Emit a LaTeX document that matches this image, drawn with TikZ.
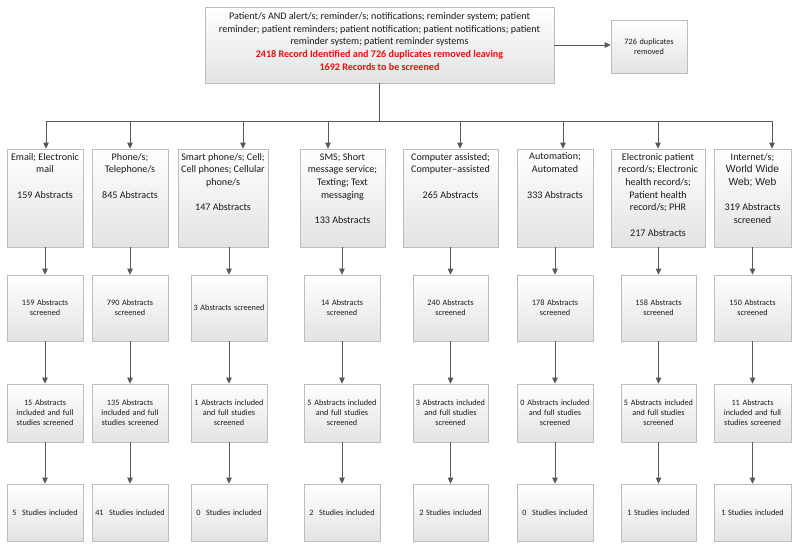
\documentclass[tikz,border=0pt]{standalone}
\usepackage{fontspec}
\setmainfont{Carlito}
\newfontfamily\arialfont{Liberation Sans}
\usetikzlibrary{arrows.meta,shadows}
\definecolor{boxline}{HTML}{BDBDBD}
\definecolor{connc}{HTML}{595959}
\definecolor{txt}{HTML}{1A1A1A}
\definecolor{redtxt}{HTML}{F20D0D}
\tikzset{
  box/.style={draw=boxline, line width=0.6pt, top color=white, bottom color=black!11,
    drop shadow={opacity=0.18, shadow xshift=1.2pt, shadow yshift=-1.2pt},
    inner sep=0pt, text=txt},
  big/.style={box, font=\fontsize{10.1}{12.7}\selectfont},
  small/.style={box, align=center, font=\fontsize{8.2}{10}\selectfont},
  r2/.style={small, minimum height=66pt},
  r3/.style={small, minimum height=58pt},
  r4/.style={small, minimum height=57pt},
  conn/.style={draw=connc, line width=0.8pt, -{Triangle[length=6pt,width=5.5pt]}},
  plainline/.style={draw=connc, line width=0.8pt},
}
\begin{document}
\begin{tikzpicture}[x=1pt,y=-1pt]
\fill[white] (0,0) rectangle (800,551);
\useasboundingbox (0,0) rectangle (800,551);

% top box
\node[big, minimum width=349pt, minimum height=76pt] (top) at (379.5,45)
 {\parbox[t][65pt][t]{345pt}{\centering Patient/s AND alert/s; reminder/s; notifications; reminder system; patient\\
  reminder; patient reminders; patient notification; patient notifications; patient\\
  reminder system; patient reminder systems\\
  \textcolor{redtxt}{\bfseries 2418 Record Identified and 726 duplicates removed leaving}\\
  \textcolor{redtxt}{\bfseries 1692 Records to be screened}}};
\node[small, minimum width=76pt, minimum height=53pt, text width=72pt] (dup) at (649,46.5)
 {726 duplicates\\removed};

% row 1
\node[big, minimum width=76pt, minimum height=98pt] (r1a) at (45,198)
 {\parbox[t][90pt][t]{74pt}{\centering Email; Electronic\\mail\\[12.7pt]159 Abstracts}};
\node[big, minimum width=76pt, minimum height=98pt] (r1b) at (130,198)
 {\parbox[t][90pt][t]{74pt}{\centering Phone/s;\\Telephone/s\\[12.7pt]845 Abstracts}};
\node[big, minimum width=90pt, minimum height=98pt] (r1c) at (223,198)
 {\parbox[t][90pt][t]{88pt}{\centering Smart phone/s; Cell;\\Cell phones; Cellular\\phone/s\\[12.7pt]147 Abstracts}};
\node[big, minimum width=85pt, minimum height=98pt] (r1d) at (342.5,198)
 {\parbox[t][90pt][t]{83pt}{\centering SMS; Short\\message service;\\Texting; Text\\messaging\\[12.7pt]133 Abstracts}};
\node[big, minimum width=95pt, minimum height=98pt] (r1e) at (450.5,198)
 {\parbox[t][90pt][t]{93pt}{\centering Computer assisted;\\Computer--assisted\\[12.7pt]265 Abstracts}};
\node[big, minimum width=76pt, minimum height=98pt] (r1f) at (555,198)
 {\parbox[t][90pt][t]{74pt}{\centering Automation;\\Automated\\[12.7pt]333 Abstracts}};
\node[big, minimum width=94pt, minimum height=98pt] (r1g) at (658,198)
 {\parbox[t][90pt][t]{92pt}{\centering Electronic patient\\record/s; Electronic\\health record/s;\\Patient health\\record/s; PHR\\[12.7pt]217 Abstracts}};
\node[big, minimum width=77pt, minimum height=98pt] (r1h) at (752.5,198)
 {\parbox[t][90pt][t]{75pt}{\centering Internet/s;\\{\arialfont\fontsize{10.3}{12.7}\selectfont World Wide}\\{\arialfont\fontsize{10.3}{12.7}\selectfont Web; Web}\\[12.7pt]319 Abstracts\\screened}};

% row 2
\node[r2, minimum width=76pt, text width=74pt] (r2a) at (45,308) {159 Abstracts\\screened};
\node[r2, minimum width=76pt, text width=74pt] (r2b) at (130,308) {790 Abstracts\\screened};
\node[r2, minimum width=76pt, text width=74pt] (r2c) at (229,308) {3 Abstracts screened};
\node[r2, minimum width=76pt, text width=74pt] (r2d) at (342,308) {14 Abstracts\\screened};
\node[r2, minimum width=75pt, text width=73pt] (r2e) at (450.5,308) {240 Abstracts\\screened};
\node[r2, minimum width=76pt, text width=74pt] (r2f) at (555,308) {178 Abstracts\\screened};
\node[r2, minimum width=75pt, text width=73pt] (r2g) at (658.5,308) {158 Abstracts\\screened};
\node[r2, minimum width=77pt, text width=75pt] (r2h) at (752.5,308) {150 Abstracts\\screened};

% row 3
\node[r3, minimum width=76pt, text width=74pt] (r3a) at (45,413) {15 Abstracts\\included and full\\studies screened};
\node[r3, minimum width=76pt, text width=74pt] (r3b) at (130,413) {135 Abstracts\\included and full\\studies screened};
\node[r3, minimum width=76pt, text width=74pt] (r3c) at (229,413) {1 Abstracts included\\and full studies\\screened};
\node[r3, minimum width=76pt, text width=74pt] (r3d) at (342,413) {5 Abstracts included\\and full studies\\screened};
\node[r3, minimum width=75pt, text width=73pt] (r3e) at (450.5,413) {3 Abstracts included\\and full studies\\screened};
\node[r3, minimum width=76pt, text width=74pt] (r3f) at (555,413) {0 Abstracts included\\and full studies\\screened};
\node[r3, minimum width=75pt, text width=73pt] (r3g) at (658.5,413) {5 Abstracts included\\and full studies\\screened};
\node[r3, minimum width=77pt, text width=75pt] (r3h) at (752.5,413) {11 Abstracts\\included and full\\studies screened};

% row 4
\node[r4, minimum width=76pt, text width=74pt] (r4a) at (45,512.5) {5\ \ Studies included};
\node[r4, minimum width=76pt, text width=74pt] (r4b) at (130,512.5) {41\ \ Studies included};
\node[r4, minimum width=76pt, text width=74pt] (r4c) at (229,512.5) {0\ \ Studies included};
\node[r4, minimum width=76pt, text width=74pt] (r4d) at (342,512.5) {2\ \ Studies included};
\node[r4, minimum width=75pt, text width=73pt] (r4e) at (450.5,512.5) {2 Studies included};
\node[r4, minimum width=76pt, text width=74pt] (r4f) at (555,512.5) {0\ \ Studies included};
\node[r4, minimum width=75pt, text width=73pt] (r4g) at (658.5,512.5) {1 Studies included};
\node[r4, minimum width=77pt, text width=75pt] (r4h) at (752.5,512.5) {1 Studies included};

% bus
\coordinate (bus) at (379.5,121);
\coordinate (b1) at (46,121);
\coordinate (b2) at (130,121);
\coordinate (b3) at (243,121);
\coordinate (b4) at (328,121);
\coordinate (b5) at (460,121);
\coordinate (b6) at (563,121);
\coordinate (b7) at (658,121);
\coordinate (b8) at (772,121);
\draw[plainline] (top.south) -- (bus);
\draw[plainline] (b1) -- (b8);
\draw[conn] (top.east) -- (top.east -| dup.west);

\foreach \c/\n in {b1/r1a,b2/r1b,b3/r1c,b4/r1d,b5/r1e,b6/r1f,b7/r1g,b8/r1h}
  \draw[conn] (\c) -- (\c |- \n.north);

\foreach \s in {a,b,c,d,e,f,g,h}{
  \draw[conn] (r2\s.north |- r1\s.south) -- (r2\s.north);
  \draw[conn] (r2\s.south) -- (r3\s.north);
  \draw[conn] (r3\s.south) -- (r4\s.north);
}
\end{tikzpicture}
\end{document}
